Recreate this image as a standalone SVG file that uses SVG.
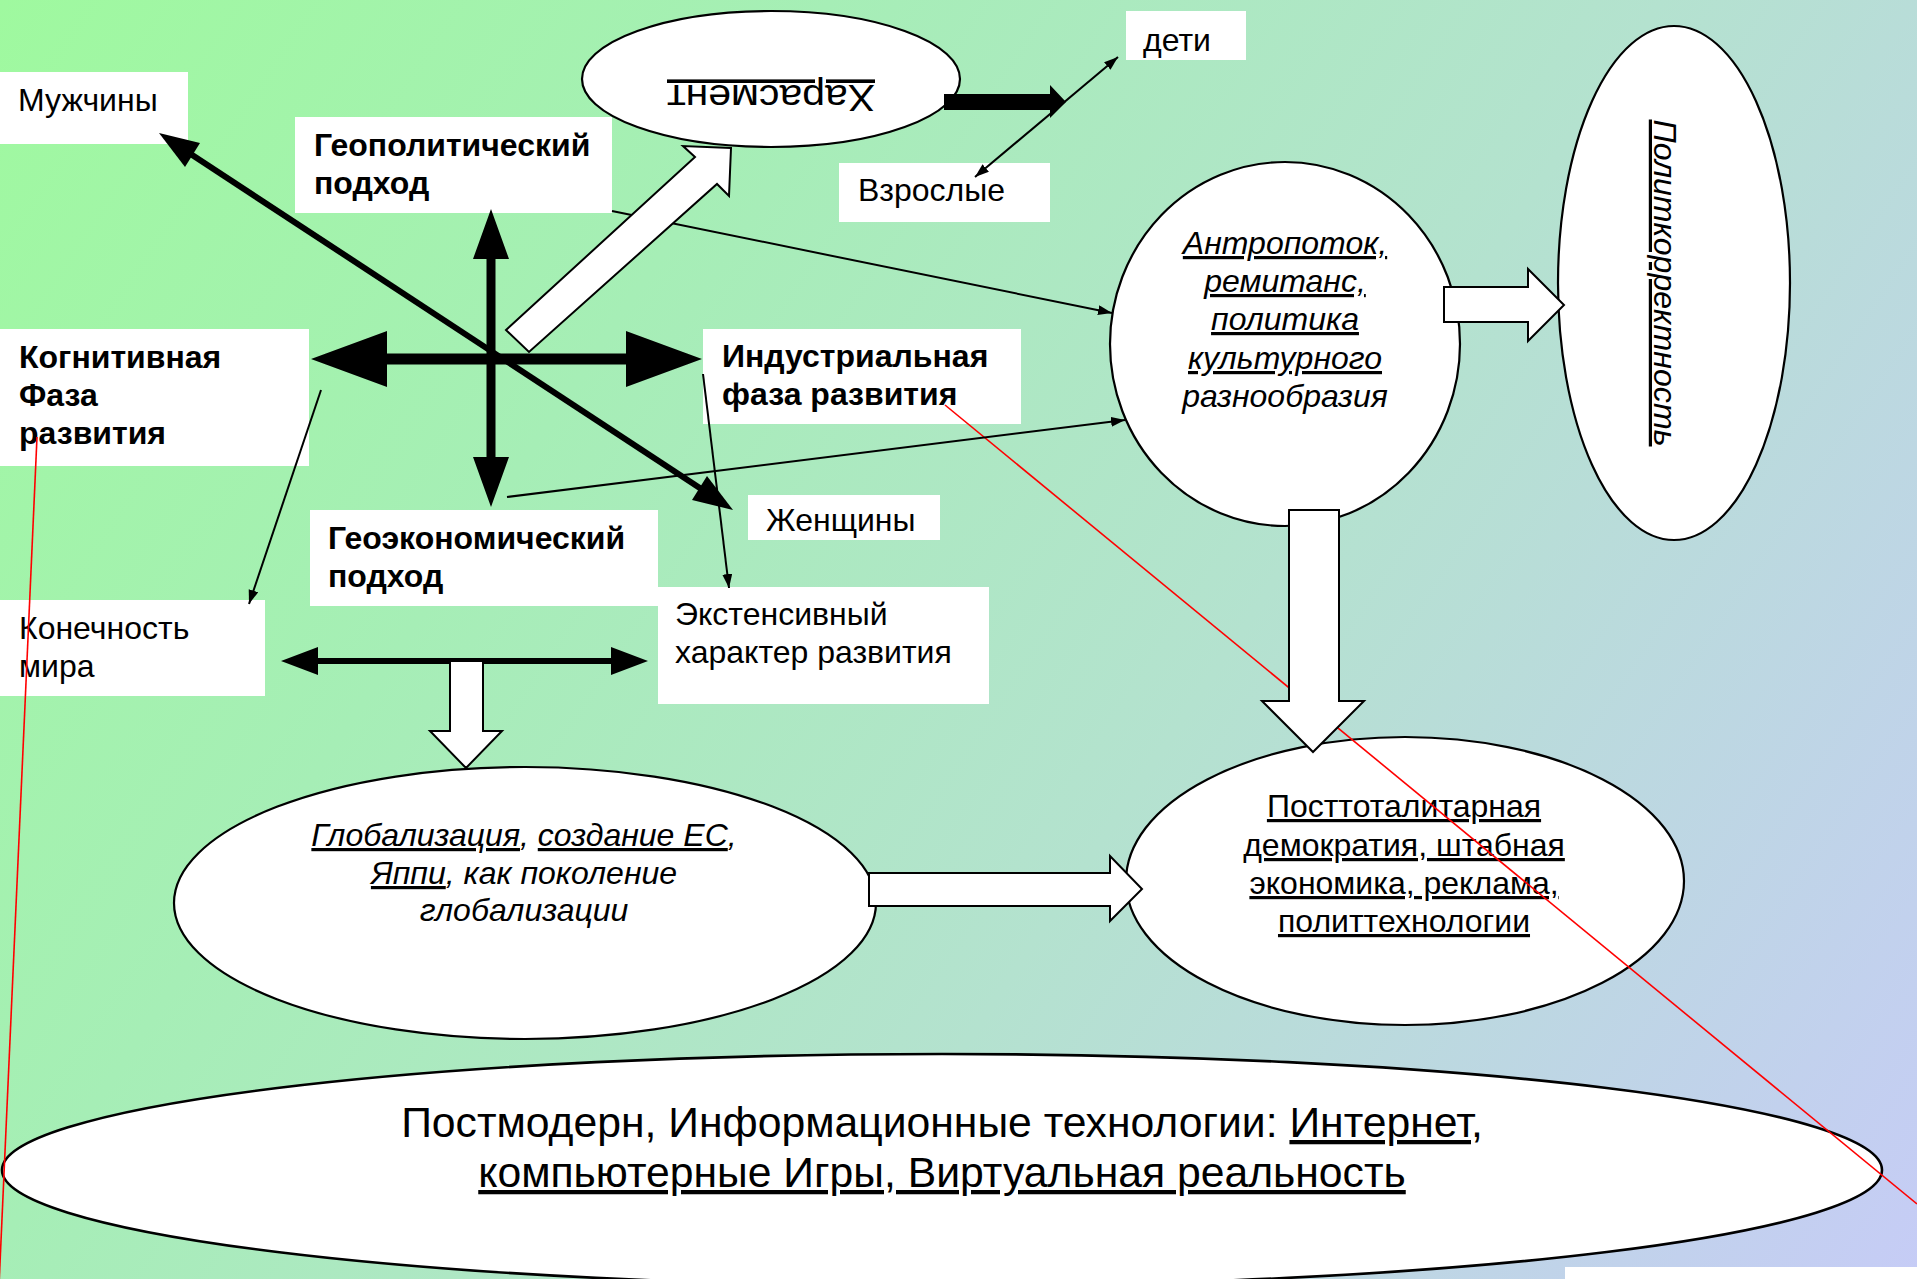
<svg xmlns="http://www.w3.org/2000/svg" width="1917" height="1279" viewBox="0 0 1917 1279">
<defs>
<linearGradient id="bg" gradientUnits="userSpaceOnUse" x1="0" y1="0" x2="1917" y2="1279">
<stop offset="0" stop-color="#9ff99f"/>
<stop offset="0.3" stop-color="#a6eeb6"/>
<stop offset="0.6" stop-color="#b4e2cf"/>
<stop offset="1" stop-color="#c6ccf6"/>
</linearGradient>
<marker id="ah" markerUnits="userSpaceOnUse" markerWidth="16" markerHeight="12" refX="14" refY="5" orient="auto-start-reverse">
<path d="M0,0 L14,5 L0,10 z" fill="#000"/>
</marker>
<style>
.box{fill:#fff;stroke:none}
.ell{fill:#fff;stroke:#000;stroke-width:2.2}
.blk{fill:#fff;stroke:#000;stroke-width:2}
.t{font-family:"Liberation Sans",Arial,sans-serif;font-size:32px;fill:#000}
.b{font-family:"Liberation Sans",Arial,sans-serif;font-size:32px;font-weight:bold;fill:#000}
.i{font-family:"Liberation Sans",Arial,sans-serif;font-size:32px;font-style:italic;fill:#000}
.big{font-size:42.7px}
.har{font-size:36px}
.c{text-anchor:middle}
.u{text-decoration:underline}
.thin{fill:none;stroke:#000;stroke-width:2}
.red{fill:none;stroke:#ff0000;stroke-width:1.6}
</style>
</defs>
<rect x="0" y="0" width="1917" height="1279" fill="url(#bg)"/>

<g id="node-muzhchiny"><rect class="box" x="0" y="72" width="188" height="72"/><text class="t" x="18" y="111">Мужчины</text></g>
<g id="node-geopolit"><rect class="box" x="295" y="117" width="317" height="96"/><text class="b" x="314" y="156">Геополитический</text><text class="b" x="314" y="194">подход</text></g>
<g id="node-kognit"><rect class="box" x="0" y="329" width="309" height="137"/><text class="b" x="19" y="368">Когнитивная</text><text class="b" x="19" y="406">Фаза</text><text class="b" x="19" y="444">развития</text></g>
<g id="node-industr"><rect class="box" x="703" y="329" width="318" height="95"/><text class="b" x="722" y="367">Индустриальная</text><text class="b" x="722" y="405">фаза развития</text></g>
<g id="node-zhenshchiny"><rect class="box" x="748" y="495" width="192" height="45"/><text class="t" x="766" y="531">Женщины</text></g>
<g id="node-geoekonom"><rect class="box" x="310" y="510" width="348" height="96"/><text class="b" x="328" y="549">Геоэкономический</text><text class="b" x="328" y="587">подход</text></g>
<g id="node-konechnost"><rect class="box" x="0" y="600" width="265" height="96"/><text class="t" x="19" y="639">Конечность</text><text class="t" x="19" y="677">мира</text></g>
<g id="node-ekstensiv"><rect class="box" x="658" y="587" width="331" height="117"/><text class="t" x="675" y="625">Экстенсивный</text><text class="t" x="675" y="663">характер развития</text></g>
<g id="node-deti"><rect class="box" x="1126" y="11" width="120" height="49"/><text class="t" x="1143" y="51">дети</text></g>
<g id="node-vzroslye"><rect class="box" x="839" y="163" width="211" height="59"/><text class="t" x="858" y="201">Взрослые</text></g>
<g id="node-kharasment"><ellipse class="ell" cx="771" cy="79" rx="189" ry="68"/><text class="t har c u" x="771" y="105" textLength="208" lengthAdjust="spacingAndGlyphs" transform="rotate(180 771 95)">Харасмент</text></g>
<g id="node-antropotok"><ellipse class="ell" cx="1285" cy="344" rx="175" ry="182"/>
<text class="i c u" x="1285" y="254">Антропоток,</text>
<text class="i c u" x="1285" y="292">ремитанс,</text>
<text class="i c u" x="1285" y="330">политика</text>
<text class="i c u" x="1285" y="369">культурного</text>
<text class="i c" x="1285" y="407">разнообразия</text></g>
<g id="node-politkorr"><ellipse class="ell" cx="1674" cy="283" rx="116" ry="257"/><text class="i c u" x="1664" y="293" textLength="327" lengthAdjust="spacingAndGlyphs" transform="rotate(90 1664 283)">Политкорректность</text></g>
<g id="node-global"><ellipse class="ell" cx="525" cy="903" rx="351" ry="136"/>
<text class="i c" x="524" y="846"><tspan class="u">Глобализация</tspan>, <tspan class="u">создание ЕС</tspan>,</text>
<text class="i c" x="524" y="884"><tspan class="u">Яппи</tspan>, как поколение</text>
<text class="i c" x="524" y="921">глобализации</text></g>
<g id="node-posttotal"><ellipse class="ell" cx="1405" cy="881" rx="279" ry="144"/>
<text class="t c u" x="1404" y="817">Посттоталитарная</text>
<text class="t c u" x="1404" y="856">демократия, штабная</text>
<text class="t c u" x="1404" y="894">экономика, реклама,</text>
<text class="t c u" x="1404" y="932">политтехнологии</text></g>
<g id="node-postmodern"><ellipse class="ell" cx="942" cy="1170" rx="940" ry="116" style="stroke-width:2.6"/>
<text class="t big c" x="942" y="1137">Постмодерн, Информационные технологии: <tspan class="u">Интернет,</tspan></text>
<text class="t big c u" x="942" y="1187">компьютерные Игры, Виртуальная реальность</text></g>
<rect class="box" x="1565" y="1267" width="352" height="12"/>

<g id="annotations">
<line class="red" x1="37" y1="437" x2="-0.7" y2="1279"/>
<line class="red" x1="945" y1="405" x2="1917" y2="1204"/>
</g>

<g id="connectors">
<line class="thin" x1="612" y1="211" x2="1112" y2="313" marker-end="url(#ah)"/>
<line class="thin" x1="507" y1="497" x2="1125" y2="420" marker-end="url(#ah)"/>
<line class="thin" x1="703" y1="374" x2="729" y2="588" marker-end="url(#ah)"/>
<line class="thin" x1="321" y1="390" x2="249" y2="604" marker-end="url(#ah)"/>
<line class="thin" x1="975" y1="177" x2="1118" y2="57" marker-start="url(#ah)" marker-end="url(#ah)"/>
<line x1="180" y1="147" x2="712" y2="496" stroke="#000" stroke-width="6"/>
<polygon points="159,133 200,143 185,167" fill="#000"/>
<polygon points="733,510 692,500 707,476" fill="#000"/>
<polygon points="311,359 387,331 387,353.5 626,353.5 626,331 702,359 626,387 626,364.5 387,364.5 387,387" fill="#000"/>
<polygon points="491,209 509,259 495.5,259 495.5,457 509,457 491,507 473,457 486.5,457 486.5,259 473,259" fill="#000"/>
<polygon points="281,661 318,647 318,658 611,658 611,647 648,661 611,675 611,664 318,664 318,675" fill="#000"/>
<polygon points="944,94 1050,94 1050,85 1066,102 1050,118 1050,110 944,110" fill="#000"/>
<polygon class="blk" points="506,330 695,157 683,146 731,148 729,196 717,184 529,352"/>
<polygon class="blk" points="450,661 483,661 483,731 502,731 466,768 430,731 450,731"/>
<polygon class="blk" points="869,873 1110,873 1110,856 1142,889 1110,921 1110,906 869,906"/>
<polygon class="blk" points="1444,287 1528,287 1528,269 1564,305 1528,341 1528,322 1444,322"/>
<polygon class="blk" points="1289,510 1339,510 1339,701 1364,701 1313,752 1262,701 1289,701"/>
</g>
</svg>
